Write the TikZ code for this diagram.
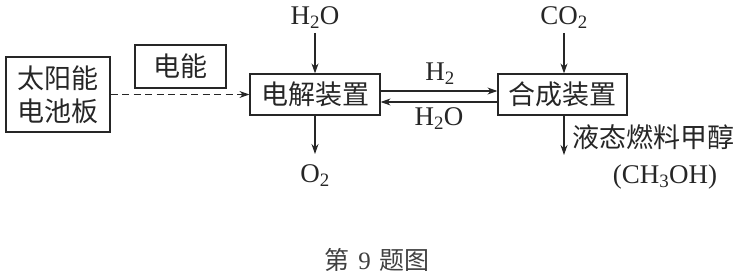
\documentclass[tikz,border=0pt]{standalone}
\usepackage{fontspec}
\setmainfont{Liberation Serif}
\newfontfamily\cjk{Noto Sans CJK SC}
\usetikzlibrary{arrows.meta}
\begin{document}
\begin{tikzpicture}[x=1pt,y=-1pt,
  every node/.style={text=black!85, font=\fontsize{27}{31}\selectfont},
  boxed/.style={draw=black!85, line width=1.2pt, inner sep=0pt, align=center, font=\cjk\fontsize{27}{31}\selectfont},
  lbl/.style={inner sep=0pt},
  arr/.style={draw=black!85, line width=1.1pt, -{Stealth[length=10pt,width=7pt]}},
  darr/.style={arr, dash pattern=on 7pt off 4.5pt}]
\useasboundingbox (0,0) rectangle (752,275);
% boxes
\node[boxed, minimum width=104pt, minimum height=75pt, font=\cjk\fontsize{27}{33}\selectfont] (solar) at (58,94.5) {太阳能\\电池板};
\node[boxed, minimum width=91pt, minimum height=43pt] (elec) at (180.5,66.5) {电能};
\node[boxed, minimum width=130pt, minimum height=41pt] (dj) at (315,94.5) {电解装置};
\node[boxed, minimum width=129pt, minimum height=41pt] (hc) at (562.5,94.5) {合成装置};
% labels
\node[lbl] (h2otop) at (315,18) {H\textsubscript{2}O};
\node[lbl] (co2) at (564,18) {CO\textsubscript{2}};
\node[lbl] (o2) at (315,176) {O\textsubscript{2}};
\node[lbl] (h2) at (440,74) {H\textsubscript{2}};
\node[lbl] (h2ob) at (439,119) {H\textsubscript{2}O};
\node[lbl, anchor=west, font=\cjk\fontsize{27}{31}\selectfont] (meoh) at (572,137) {液态燃料甲醇};
\node[lbl] (ch3oh) at (665,177) {(CH\textsubscript{3}OH)};
\node[lbl, text=black!75, font=\cjk\fontsize{25}{29}\selectfont] (cap) at (377,260) {第\hspace{9pt}{\rmfamily 9}\hspace{9pt}题图};
% coordinates for arrow ends
\coordinate (h2oA) at (315,33);
\coordinate (co2A) at (564,33);
\coordinate (o2A) at (315,154);
\coordinate (outA) at (564,155);
% connectors
\draw[darr] (solar.east) -- (dj.west);
\draw[arr] (h2oA) -- (dj.north);
\draw[arr] (co2A) -- (co2A |- hc.north);
\draw[arr] (dj.south) -- (o2A);
\draw[arr] (outA |- hc.south) -- (outA);
\draw[arr] (dj.east |- 0,91) -- (hc.west |- 0,91);
\draw[arr] (hc.west |- 0,102) -- (dj.east |- 0,102);
\end{tikzpicture}
\end{document}
